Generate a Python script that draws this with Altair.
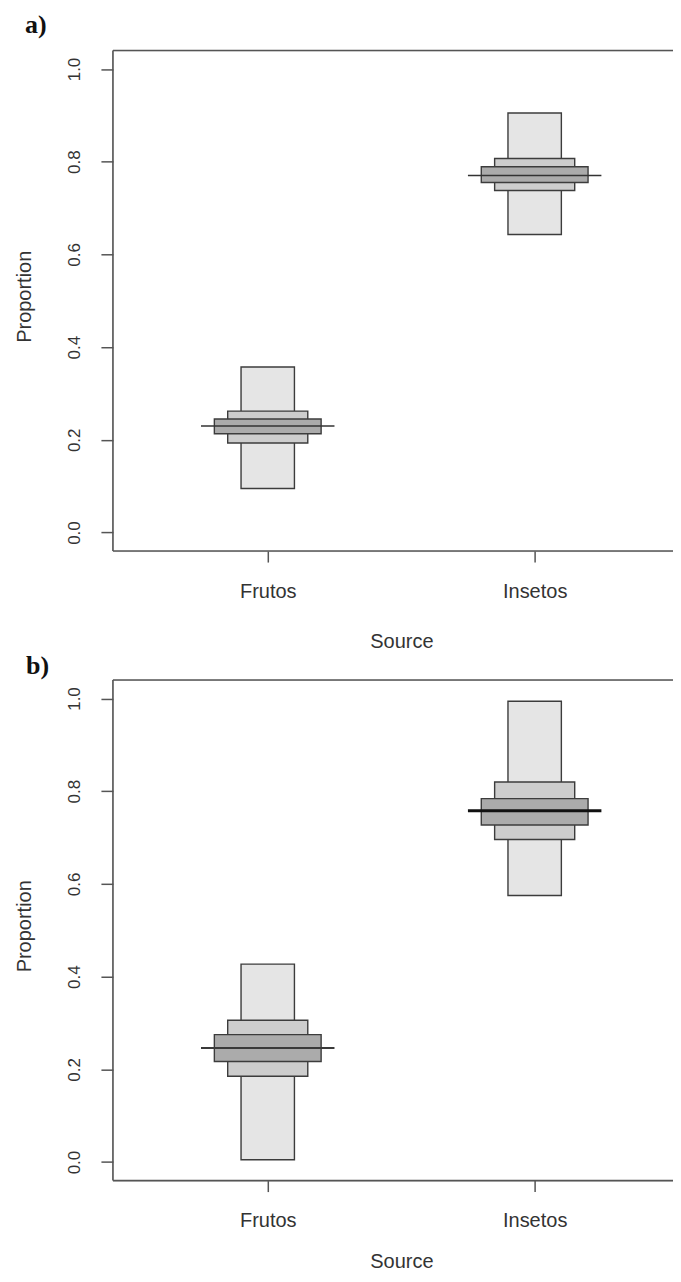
import altair as alt
import pandas as pd

# ---------------- data ----------------
sources = ["Frutos", "Insetos"]
positions = [1, 2]
y_ticks = [0.0, 0.2, 0.4, 0.6, 0.8, 1.0]

# panel a) credible intervals (95 %, 75 %, 50 %) and mode
a_lo95 = [0.095, 0.643]
a_hi95 = [0.357, 0.905]
a_lo75 = [0.193, 0.738]
a_hi75 = [0.262, 0.807]
a_lo50 = [0.213, 0.755]
a_hi50 = [0.245, 0.789]
a_mode = [0.230, 0.770]

# panel b)
b_lo95 = [0.005, 0.575]
b_hi95 = [0.427, 0.994]
b_lo75 = [0.185, 0.696]
b_hi75 = [0.306, 0.820]
b_lo50 = [0.217, 0.727]
b_hi50 = [0.275, 0.784]
b_mode = [0.246, 0.758]

# ---------------- style ----------------
HALF = {"95": 0.10, "75": 0.15, "50": 0.20}
LINE_HALF = 0.25
FILL = {"95": "#e5e5e5", "75": "#cdcdcd", "50": "#ababab"}
BOX_STROKE = "#3c3c3c"
FRAME = "#555555"
TEXT = "#333333"
W, H = 577, 501
X_DOMAIN = [0.42, 2.58]
Y_DOMAIN = [-0.04, 1.04]

label_expr = " : ".join(
    f"datum.value == {p} ? '{s}'" for p, s in zip(positions, sources)
) + " : ''"


def make_xaxis(title_y):
    return alt.Axis(
        values=positions, labelExpr=label_expr, title="Source",
        grid=False, domain=False,
        ticks=True, tickSize=11, tickColor=FRAME, tickWidth=1.5,
        labelFont="Liberation Sans", labelFontSize=20, labelColor=TEXT,
        labelBaseline="alphabetic", labelPadding=35, labelFlush=False,
        labelOverlap=False,
        titleFont="Liberation Sans", titleFontSize=20, titleFontWeight="normal",
        titleColor=TEXT, titleX=288.7, titleY=title_y, titleAlign="center",
        titleBaseline="alphabetic", titleAngle=0,
    )


yaxis = alt.Axis(
    values=y_ticks, format=".1f", title="Proportion",
    grid=False, domain=False,
    ticks=True, tickSize=12, tickColor=FRAME, tickWidth=1.5,
    labelFont="Liberation Sans", labelFontSize=17, labelColor=TEXT,
    labelAngle=270, labelAlign="center", labelBaseline="alphabetic",
    labelPadding=21, labelFlush=False, labelOverlap=False,
    titleFont="Liberation Sans", titleFontSize=20, titleFontWeight="normal",
    titleColor=TEXT, titleAngle=270, titleX=-82.5, titleY=246,
    titleAlign="center", titleBaseline="alphabetic",
)
xscale = alt.Scale(domain=X_DOMAIN, nice=False, zero=False)
yscale = alt.Scale(domain=Y_DOMAIN, nice=False, zero=False)


def panel(tag, tag_x, tag_y, top_pin, bottom_pin, title_y,
          lows, highs, modes, mode_styles):
    xaxis = make_xaxis(title_y)
    X = lambda f: alt.X(f, scale=xscale, axis=xaxis)
    Y = lambda f: alt.Y(f, scale=yscale, axis=yaxis)
    layers = []
    # plot frame (left, bottom, top; the right side lies beyond the picture)
    fr = pd.DataFrame({
        "x": [X_DOMAIN[0], X_DOMAIN[0], X_DOMAIN[0]],
        "x2": [X_DOMAIN[0], X_DOMAIN[1], X_DOMAIN[1]],
        "y": [Y_DOMAIN[0], Y_DOMAIN[0], Y_DOMAIN[1]],
        "y2": [Y_DOMAIN[1], Y_DOMAIN[0], Y_DOMAIN[1]],
    })
    layers.append(
        alt.Chart(fr).mark_rule(color=FRAME, strokeWidth=1.6)
        .encode(x=X("x:Q"), x2="x2:Q", y=Y("y:Q"), y2="y2:Q")
    )
    for lvl in ["95", "75", "50"]:
        df = pd.DataFrame({
            "source": sources, "pos": positions,
            "lo": lows[lvl], "hi": highs[lvl],
        })
        df["half"] = HALF[lvl]
        layers.append(
            alt.Chart(df)
            .transform_calculate(xl="datum.pos - datum.half", xr="datum.pos + datum.half")
            .mark_rect(fill=FILL[lvl], stroke=BOX_STROKE, strokeWidth=1.4)
            .encode(x=X("xl:Q"), x2="xr:Q", y=Y("lo:Q"), y2="hi:Q")
        )
    for s, p, m, (col, sw) in zip(sources, positions, modes, mode_styles):
        dfm = pd.DataFrame({"source": [s], "pos": [p], "mode": [m]})
        layers.append(
            alt.Chart(dfm)
            .transform_calculate(xl=f"datum.pos - {LINE_HALF}", xr=f"datum.pos + {LINE_HALF}")
            .mark_rule(color=col, strokeWidth=sw)
            .encode(x=X("xl:Q"), x2="xr:Q", y=Y("mode:Q"))
        )
    # panel tag
    layers.append(
        alt.Chart(pd.DataFrame({"t": [tag]}))
        .mark_text(align="left", baseline="alphabetic", font="Liberation Serif",
                   fontWeight="bold", fontSize=26, color="#111111")
        .encode(text="t:N", x=alt.value(tag_x), y=alt.value(tag_y))
    )
    # invisible layout pin (fixes the panel's outer extent)
    layers.append(
        alt.Chart(pd.DataFrame({"k": [0]}))
        .mark_rule(opacity=0, strokeWidth=1, color="white")
        .encode(x=alt.value(-112.5), x2=alt.value(-112), y=alt.value(top_pin + 0.5),
                y2=alt.value(bottom_pin - 0.5))
    )
    return alt.layer(*layers).properties(width=W, height=H)


pa = panel(
    "a)", -88, -17.5, -50, H + 101, 97,
    {"95": a_lo95, "75": a_lo75, "50": a_lo50},
    {"95": a_hi95, "75": a_hi75, "50": a_hi50},
    a_mode, [("#333333", 1.5), ("#333333", 1.5)],
)
pb = panel(
    "b)", -87, -5.5, -26.5, H + 92, 87,
    {"95": b_lo95, "75": b_lo75, "50": b_lo50},
    {"95": b_hi95, "75": b_hi75, "50": b_hi50},
    b_mode, [("#3a3a3a", 2), ("#111111", 3)],
)

chart = (
    alt.vconcat(pa, pb, spacing=0)
    .properties(padding={"left": -8, "top": -8, "right": -18.5, "bottom": -1})
    .configure_view(strokeWidth=0, strokeOpacity=0)
    .configure(font="Liberation Sans", background="white")
)

chart.save("out.html", embed_options={"renderer": "svg", "actions": False})
